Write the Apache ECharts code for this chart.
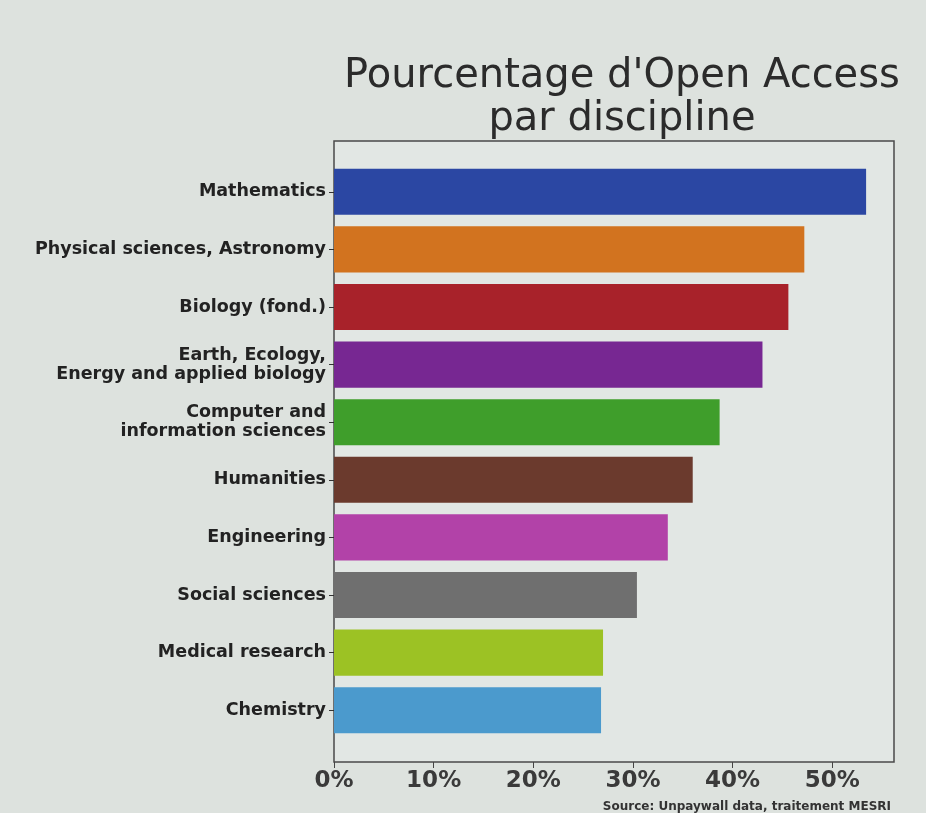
<!DOCTYPE html>
<html>
<head>
<meta charset="utf-8">
<script src="https://cdn.jsdelivr.net/npm/echarts@6/dist/echarts.min.js"></script>
<style>
  html, body { margin: 0; padding: 0; background: #dde2de; }
</style>
</head>
<body>
<div id="main" style="width:926px;height:813px;"></div>
<script type="text/javascript">
	// disciplines, top to bottom
	var disciplines = [
	    'Mathematics',
	    'Physical sciences, Astronomy',
	    'Biology (fond.)',
	    'Earth, Ecology,\nEnergy and applied biology',
	    'Computer and\ninformation sciences',
	    'Humanities',
	    'Engineering',
	    'Social sciences',
	    'Medical research',
	    'Chemistry'
	];
	// open access share, %
	var openAccess = [53.4, 47.2, 45.6, 43.0, 38.7, 36.0, 33.5, 30.4, 27.0, 26.8];
	var barColors = ['#2b47a3', '#d2731f', '#a8222a', '#772792', '#3f9e2b',
	                 '#6b3a2d', '#b242a8', '#6f6f6f', '#9cc224', '#4b9acd'];
	var xMax = 56.2;

	var chart = echarts.init(document.getElementById('main'));
	chart.setOption({
	    backgroundColor: '#dde2de',
	    title: [{
	        text: "Pourcentage d'Open Access\npar discipline",
	        left: 617,
	        top: 50,
	        textAlign: 'center',
	        textStyle: {
	            fontFamily: 'DejaVu Sans',
	            fontSize: 40,
	            fontWeight: 'normal',
	            color: '#2b2b2b',
	            lineHeight: 43
	        }
	    }, {
	        text: 'Source: Unpaywall data, traitement MESRI',
	        right: 30,
	        top: 796,
	        textStyle: {
	            fontFamily: 'DejaVu Sans',
	            fontSize: 12,
	            fontWeight: 'bold',
	            color: '#333'
	        }
	    }],
	    grid: [
	        // bars
	        {left: 334, right: 32, top: 163, bottom: 74},
	        // frame + x ticks (matplotlib style margins)
	        {left: 334, right: 32, top: 141, bottom: 51, show: true,
	         borderColor: '#4a4a4a', borderWidth: 1.5, backgroundColor: '#e2e7e4'}
	    ],
	    xAxis: [
	        {gridIndex: 0, type: 'value', min: 0, max: xMax, show: false},
	        {
	            gridIndex: 1, type: 'value', min: 0, max: xMax, interval: 10,
	            axisLine: {show: false},
	            axisTick: {show: true, length: 6, lineStyle: {color: '#444'}},
	            splitLine: {show: false},
	            axisLabel: {
	                formatter: '{value}%',
	                margin: 8,
	                fontFamily: 'DejaVu Sans',
	                fontSize: 23,
	                fontWeight: 'bold',
	                color: '#3a3a3a',
	                showMaxLabel: false
	            }
	        }
	    ],
	    yAxis: [
	        {
	            gridIndex: 0, type: 'category', inverse: true, data: disciplines,
	            axisLine: {show: false},
	            axisTick: {show: true, alignWithLabel: true, length: 5, lineStyle: {color: '#333'}},
	            axisLabel: {
	                margin: 8,
	                fontFamily: 'DejaVu Sans',
	                fontSize: 17.5,
	                fontWeight: 'bold',
	                color: '#222',
	                lineHeight: 19
	            }
	        },
	        {gridIndex: 1, type: 'value', show: false}
	    ],
	    series: [{
	        type: 'bar',
	        xAxisIndex: 0,
	        yAxisIndex: 0,
	        barCategoryGap: '20%',
	        data: openAccess.map(function (v, i) {
	            return {value: v, itemStyle: {color: barColors[i]}};
	        })
	    }]
	});
</script>
</body>
</html>
